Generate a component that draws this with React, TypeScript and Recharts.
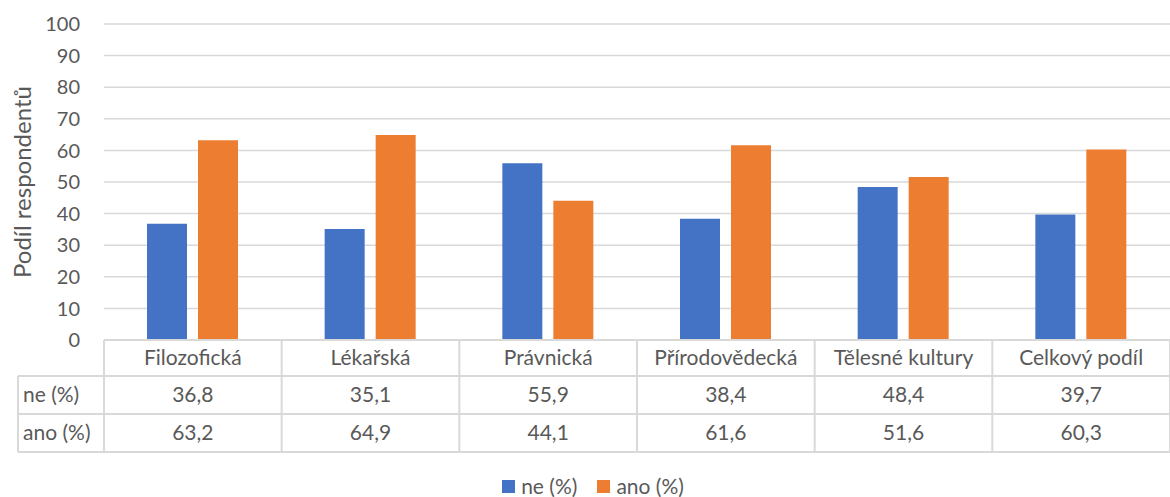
import { BarChart, Bar, XAxis, YAxis, CartesianGrid, Legend } from 'recharts';

const categories = ['Filozofická', 'Lékařská', 'Právnická', 'Přírodovědecká', 'Tělesné kultury', 'Celkový podíl'];
const nePct = [36.8, 35.1, 55.9, 38.4, 48.4, 39.7];
const anoPct = [63.2, 64.9, 44.1, 61.6, 51.6, 60.3];
const yTicks = [0, 10, 20, 30, 40, 50, 60, 70, 80, 90, 100];

const data = categories.map((name, i) => ({ name, ne: nePct[i], ano: anoPct[i] }));

const W = 1170;
const H = 497;
const PLOT_LEFT = 104;
const BAND = (W - PLOT_LEFT) / categories.length;
const ROW = [36, 38, 38];
const TABLE_LEFT = 18;
const BORDER = '#d9d9d9';
const TEXT = '#595959';
const FONT = 'Lato, sans-serif';
const FS = 21;

const fmt = (v: number) => v.toFixed(1).replace('.', ',');

const TableTick = (props: any) => {
  const { x, y, index } = props;
  const y1 = y + ROW[0];
  const y2 = y1 + ROW[1];
  const y3 = y2 + ROW[2];
  const left = x - BAND / 2;
  const right = x + BAND / 2;
  return (
    <g>
      {index === 0 && (
        <g>
          <line x1={left} x2={W} y1={y} y2={y} stroke={BORDER} strokeWidth={2} />
          <line x1={TABLE_LEFT} x2={W} y1={y1} y2={y1} stroke={BORDER} strokeWidth={2} />
          <line x1={TABLE_LEFT} x2={W} y1={y2} y2={y2} stroke={BORDER} strokeWidth={2} />
          <line x1={TABLE_LEFT} x2={W} y1={y3} y2={y3} stroke={BORDER} strokeWidth={2} />
          <line x1={TABLE_LEFT} x2={TABLE_LEFT} y1={y1} y2={y3} stroke={BORDER} strokeWidth={2} />
          <line x1={left} x2={left} y1={y} y2={y3} stroke={BORDER} strokeWidth={2} />
          <text x={TABLE_LEFT + 5} y={y1 + ROW[1] / 2} dy="0.35em" fontSize={FS} fill={TEXT} fontFamily={FONT}>ne (%)</text>
          <text x={TABLE_LEFT + 5} y={y2 + ROW[2] / 2} dy="0.35em" fontSize={FS} fill={TEXT} fontFamily={FONT}>ano (%)</text>
        </g>
      )}
      <line x1={right} x2={right} y1={y} y2={y3} stroke={BORDER} strokeWidth={2} />
      <text x={x} y={y + ROW[0] / 2} dy="0.35em" textAnchor="middle" fontSize={FS} fill={TEXT} fontFamily={FONT}>
        {categories[index]}
      </text>
      <text x={x} y={y1 + ROW[1] / 2} dy="0.35em" textAnchor="middle" fontSize={FS} fill={TEXT} fontFamily={FONT}>
        {fmt(nePct[index])}
      </text>
      <text x={x} y={y2 + ROW[2] / 2} dy="0.35em" textAnchor="middle" fontSize={FS} fill={TEXT} fontFamily={FONT}>
        {fmt(anoPct[index])}
      </text>
    </g>
  );
};

const LegendContent = () => (
  <div style={{ display: 'flex', justifyContent: 'center', alignItems: 'center', height: 22, paddingLeft: 16, fontFamily: FONT, fontSize: FS, lineHeight: '22px', color: TEXT }}>
    <span style={{ display: 'inline-block', width: 13, height: 13, background: '#4472c4', marginRight: 6 }} />
    <span style={{ marginRight: 20 }}>ne (%)</span>
    <span style={{ display: 'inline-block', width: 13, height: 13, background: '#ed7d31', marginRight: 6 }} />
    <span>ano (%)</span>
  </div>
);

export default function App() {
  return (
    <div style={{ position: 'absolute', left: 0, top: 0, width: W, height: H, background: '#fff' }}>
      <BarChart width={W} height={H} data={data} margin={{ top: 24, right: 0, left: 0, bottom: 23 }} barSize={40} barGap={11}>
        <CartesianGrid vertical={false} stroke={BORDER} strokeWidth={1.5} />
        <XAxis dataKey="name" height={112} axisLine={false} tickLine={false} tickSize={0} tickMargin={0} tick={<TableTick />} interval={0} />
        <YAxis
          width={104}
          domain={[0, 100]}
          ticks={yTicks}
          axisLine={false}
          tickLine={false}
          tickSize={0}
          tickMargin={24}
          tick={{ fill: TEXT, fontSize: 20, fontFamily: FONT }}
          label={{ value: 'Podíl respondentů', angle: -90, position: 'center', dx: -30, fill: TEXT, fontSize: 24, fontFamily: FONT }}
        />
        <Legend content={<LegendContent />} wrapperStyle={{ top: 475, left: 0, width: W }} />
        <Bar dataKey="ne" name="ne (%)" fill="#4472c4" isAnimationActive={false} />
        <Bar dataKey="ano" name="ano (%)" fill="#ed7d31" isAnimationActive={false} />
      </BarChart>
    </div>
  );
}
